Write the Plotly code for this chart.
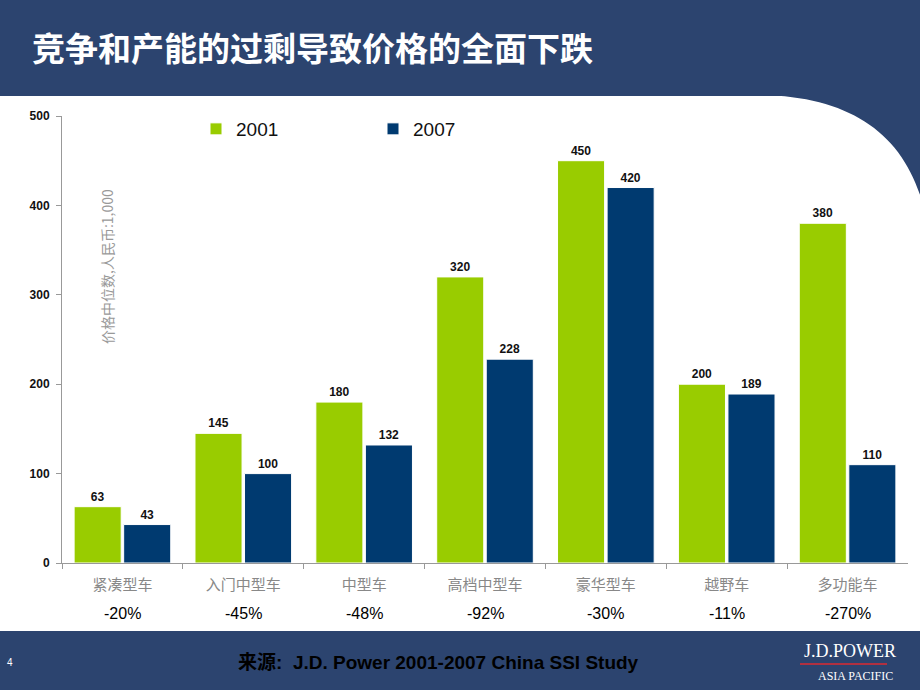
import plotly.graph_objects as go

categories = ["紧凑型车", "入门中型车", "中型车", "高档中型车", "豪华型车", "越野车", "多功能车"]
values_2001 = [63, 145, 180, 320, 450, 200, 380]
values_2007 = [43, 100, 132, 228, 420, 189, 110]
changes = ["-20%", "-45%", "-48%", "-92%", "-30%", "-11%", "-270%"]
y_ticks = [0, 100, 200, 300, 400, 500]

W, H = 920, 690
def px(x):
    return x / W
def py(y):
    return 1 - y / H

GREEN = "#99CC00"
BLUE = "#003A70"
BAND = "#2C446F"

fig = go.Figure()
fig.add_trace(go.Bar(name="2001", x=categories, y=values_2001, marker=dict(color=GREEN, line=dict(color="white", width=1)),
                     text=values_2001, textposition="outside", cliponaxis=False,
                     textfont=dict(family="Liberation Sans", size=12, color="#111")))
fig.add_trace(go.Bar(name="2007", x=categories, y=values_2007, marker=dict(color=BLUE, line=dict(color="white", width=1)),
                     text=values_2007, textposition="outside", cliponaxis=False,
                     textfont=dict(family="Liberation Sans", size=12, color="#111")))
fig.update_traces(texttemplate="<b>%{text}</b>")

shapes = [
    dict(type="rect", xref="paper", yref="paper", x0=0, x1=1, y0=py(96), y1=1, fillcolor=BAND, line_width=0, layer="below"),
    dict(type="path", xref="paper", yref="paper",
         path=f"M {px(755)} {py(95)} C {px(845)} {py(95)} {px(900)} {py(130)} {px(921)} {py(198)} L {px(921)} {py(95)} Z",
         fillcolor=BAND, line_width=0, layer="below"),
    dict(type="rect", xref="paper", yref="paper", x0=0, x1=1, y0=0, y1=py(631), fillcolor=BAND, line_width=0, layer="below"),
    dict(type="line", xref="paper", yref="paper", x0=px(800), x1=px(887), y0=py(664), y1=py(664), line=dict(color="#B03040", width=2)),
]

annotations = [
    dict(text="<b>竞争和产能的过剩导致价格的全面下跌</b>", xref="paper", yref="paper", x=px(30), y=py(47),
         xanchor="left", yanchor="middle", showarrow=False,
         font=dict(family="Noto Sans CJK SC", size=33, color="white")),
    dict(text="价格中位数,人民币:1,000", xref="paper", yref="paper", x=px(107), y=py(267), textangle=-90,
         xanchor="center", yanchor="middle", showarrow=False,
         font=dict(family="Noto Sans CJK SC", size=14, color="#999")),
    dict(text="<b>来源:  J.D. Power 2001-2007 China SSI Study</b>", xref="paper", yref="paper", x=px(438), y=py(662),
         xanchor="center", yanchor="middle", showarrow=False,
         font=dict(family="Liberation Sans, Noto Sans CJK SC", size=19, color="black")),
    dict(text="4", xref="paper", yref="paper", x=px(10), y=py(662), xanchor="center", yanchor="middle", showarrow=False,
         font=dict(family="Liberation Sans", size=10, color="white")),
    dict(text="J.D.POWER", xref="paper", yref="paper", x=px(850), y=py(651), xanchor="center", yanchor="middle", showarrow=False,
         font=dict(family="Liberation Serif", size=18, color="white")),
    dict(text="ASIA PACIFIC", xref="paper", yref="paper", x=px(855), y=py(676), xanchor="center", yanchor="middle", showarrow=False,
         font=dict(family="Liberation Serif", size=12, color="white")),
]
for c, ch in zip(categories, changes):
    annotations.append(dict(text=ch, x=c, xref="x", yref="paper", y=py(613), xanchor="center", yanchor="middle",
                            showarrow=False, font=dict(family="Liberation Sans", size=16, color="black")))

fig.update_layout(
    width=W, height=H, margin=dict(l=0, r=0, t=0, b=0, pad=0, autoexpand=False),
    paper_bgcolor="white", plot_bgcolor="white",
    barmode="group", bargap=0.18, bargroupgap=0.05,
    shapes=shapes, annotations=annotations,
    showlegend=True,
    legend=dict(orientation="h", x=px(196), y=py(129), xanchor="left", yanchor="middle",
                entrywidth=132, entrywidthmode="pixels", bgcolor="rgba(0,0,0,0)",
                font=dict(family="Liberation Sans", size=19, color="#111")),
    xaxis=dict(domain=[px(62), px(908)], anchor="y", showline=True, linecolor="#999", linewidth=1, automargin=False,
               ticks="outside", tickson="boundaries", ticklen=5, tickcolor="#999", ticklabelstandoff=8,
               tickfont=dict(family="Noto Sans CJK SC", size=15, color="#888"), showgrid=False),
    yaxis=dict(domain=[py(563), py(116)], range=[0, 500], tickvals=y_ticks, automargin=False,
               ticktext=[f"<b>{v}</b>" for v in y_ticks], showline=True, linecolor="#999", linewidth=1,
               ticks="outside", ticklen=5, tickcolor="#999", showgrid=False, zeroline=False, ticklabelstandoff=4,
               tickfont=dict(family="Liberation Sans", size=12, color="#111")),
)

fig.write_html("out.html")
